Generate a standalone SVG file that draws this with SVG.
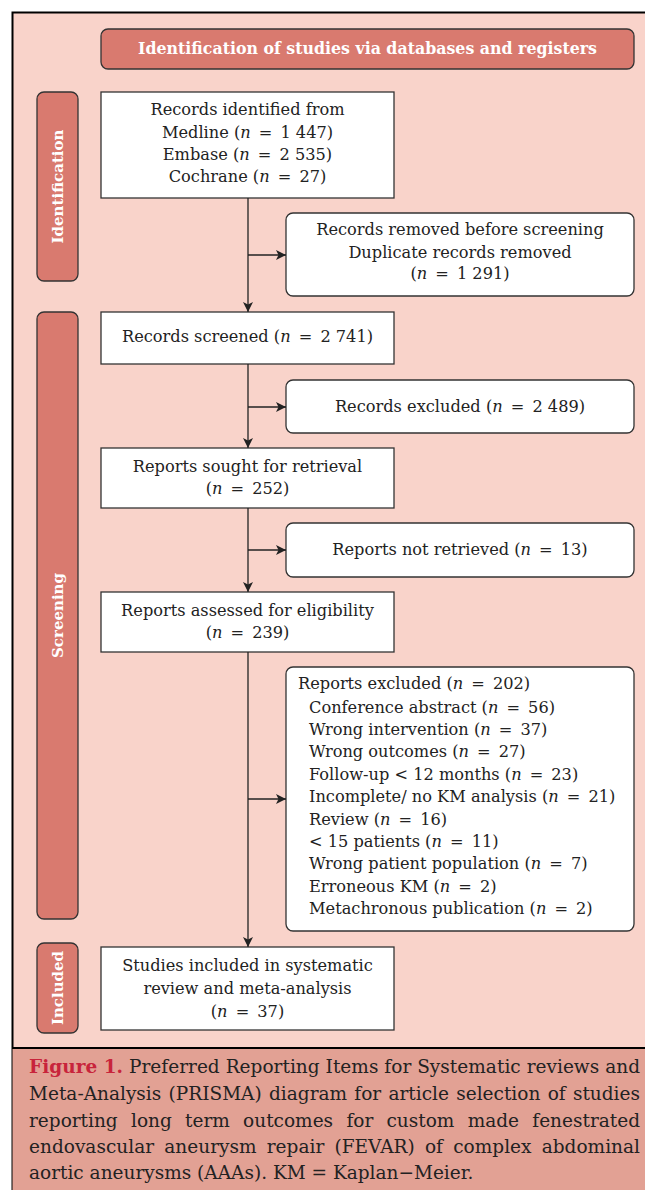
<svg xmlns="http://www.w3.org/2000/svg" width="645" height="1190" viewBox="0 0 645 1190">
<defs>
<marker id="ah" viewBox="0 0 10 10" refX="10" refY="5" markerWidth="10" markerHeight="10" markerUnits="userSpaceOnUse" orient="auto">
<path d="M0,0 L10,5 L0,10 L2.5,5 Z" fill="#222"/>
</marker>
<style>
.t{font-family:"DejaVu Serif","Liberation Serif",serif;font-size:16.2px;fill:#222;}
.c{text-anchor:middle;}
.i{font-style:italic;}
.box{fill:#fff;stroke:#333;stroke-width:1.3;}
.lab{fill:#d97a6f;stroke:#333;stroke-width:1.3;}
.lt{font-family:"DejaVu Serif","Liberation Serif",serif;font-weight:bold;fill:#fff;font-size:15px;text-anchor:middle;}
.con{stroke:#222;stroke-width:1.3;fill:none;}
.cap{font-family:"DejaVu Serif","Liberation Serif",serif;font-size:18.5px;fill:#222;}
</style>
</defs>
<rect x="12.5" y="12.5" width="700" height="1200" fill="#f9d3ca" stroke="#000" stroke-width="2"/>
<rect x="12.5" y="1048" width="700" height="160" fill="#e2a194"/>
<line x1="12" y1="1048" x2="645" y2="1048" stroke="#000" stroke-width="2"/>

<g id="header">
<rect class="lab" x="101" y="29" width="533" height="40" rx="7"/>
<text class="lt" x="367.5" y="54" style="font-size:15.8px">Identification of studies via databases and registers</text>
</g>
<g id="label-identification">
<rect class="lab" x="37" y="92" width="41" height="189" rx="7"/>
<text class="lt" transform="translate(63,186.5) rotate(-90)">Identification</text>
</g>
<g id="label-screening">
<rect class="lab" x="37" y="312" width="41" height="607" rx="7"/>
<text class="lt" transform="translate(63,615.5) rotate(-90)">Screening</text>
</g>
<g id="label-included">
<rect class="lab" x="37" y="943" width="41" height="90" rx="7"/>
<text class="lt" transform="translate(63,988) rotate(-90)">Included</text>
</g>

<g id="records-identified">
<rect class="box" x="101" y="92" width="293" height="106"/>
<text class="t c" x="247.5" y="115">Records identified from</text>
<text class="t c" x="247.5" y="138">Medline (<tspan class="i">n</tspan>&#8194;=&#8194;1 447)</text>
<text class="t c" x="247.5" y="160">Embase (<tspan class="i">n</tspan>&#8194;=&#8194;2 535)</text>
<text class="t c" x="247.5" y="182">Cochrane (<tspan class="i">n</tspan>&#8194;=&#8194;27)</text>
</g>
<g id="records-removed">
<rect class="box" x="286" y="213" width="348" height="83" rx="7"/>
<text class="t c" x="460" y="235">Records removed before screening</text>
<text class="t c" x="460" y="258">Duplicate records removed</text>
<text class="t c" x="460" y="279">(<tspan class="i">n</tspan>&#8194;=&#8194;1 291)</text>
</g>
<g id="records-screened">
<rect class="box" x="101" y="312" width="293" height="52"/>
<text class="t c" x="247.5" y="342">Records screened (<tspan class="i">n</tspan>&#8194;=&#8194;2 741)</text>
</g>
<g id="records-excluded">
<rect class="box" x="286" y="380" width="348" height="53" rx="7"/>
<text class="t c" x="460" y="412">Records excluded (<tspan class="i">n</tspan>&#8194;=&#8194;2 489)</text>
</g>
<g id="reports-sought">
<rect class="box" x="101" y="448" width="293" height="60"/>
<text class="t c" x="247.5" y="472">Reports sought for retrieval</text>
<text class="t c" x="247.5" y="494">(<tspan class="i">n</tspan>&#8194;=&#8194;252)</text>
</g>
<g id="reports-not-retrieved">
<rect class="box" x="286" y="523" width="348" height="54" rx="7"/>
<text class="t c" x="460" y="555">Reports not retrieved (<tspan class="i">n</tspan>&#8194;=&#8194;13)</text>
</g>
<g id="reports-assessed">
<rect class="box" x="101" y="592" width="293" height="60"/>
<text class="t c" x="247.5" y="616">Reports assessed for eligibility</text>
<text class="t c" x="247.5" y="638">(<tspan class="i">n</tspan>&#8194;=&#8194;239)</text>
</g>
<g id="reports-excluded">
<rect class="box" x="286" y="667" width="348" height="264" rx="7"/>
<text class="t" x="298" y="689">Reports excluded (<tspan class="i">n</tspan>&#8194;=&#8194;202)</text>
<text class="t" x="309" y="713">Conference abstract (<tspan class="i">n</tspan>&#8194;=&#8194;56)</text>
<text class="t" x="309" y="735">Wrong intervention (<tspan class="i">n</tspan>&#8194;=&#8194;37)</text>
<text class="t" x="309" y="757">Wrong outcomes (<tspan class="i">n</tspan>&#8194;=&#8194;27)</text>
<text class="t" x="309" y="780">Follow-up &lt; 12 months (<tspan class="i">n</tspan>&#8194;=&#8194;23)</text>
<text class="t" x="309" y="802">Incomplete/ no KM analysis (<tspan class="i">n</tspan>&#8194;=&#8194;21)</text>
<text class="t" x="309" y="825">Review (<tspan class="i">n</tspan>&#8194;=&#8194;16)</text>
<text class="t" x="309" y="847">&lt; 15 patients (<tspan class="i">n</tspan>&#8194;=&#8194;11)</text>
<text class="t" x="309" y="869">Wrong patient population (<tspan class="i">n</tspan>&#8194;=&#8194;7)</text>
<text class="t" x="309" y="892">Erroneous KM (<tspan class="i">n</tspan>&#8194;=&#8194;2)</text>
<text class="t" x="309" y="914">Metachronous publication (<tspan class="i">n</tspan>&#8194;=&#8194;2)</text>
</g>
<g id="studies-included">
<rect class="box" x="101" y="947" width="293" height="83"/>
<text class="t c" x="247.5" y="971">Studies included in systematic</text>
<text class="t c" x="247.5" y="994">review and meta-analysis</text>
<text class="t c" x="247.5" y="1017">(<tspan class="i">n</tspan>&#8194;=&#8194;37)</text>
</g>

<g id="connectors">
<line class="con" x1="248" y1="198" x2="248" y2="312" marker-end="url(#ah)"/>
<line class="con" x1="248" y1="255" x2="286" y2="255" marker-end="url(#ah)"/>
<line class="con" x1="248" y1="364" x2="248" y2="448" marker-end="url(#ah)"/>
<line class="con" x1="248" y1="407" x2="286" y2="407" marker-end="url(#ah)"/>
<line class="con" x1="248" y1="508" x2="248" y2="592" marker-end="url(#ah)"/>
<line class="con" x1="248" y1="550" x2="286" y2="550" marker-end="url(#ah)"/>
<line class="con" x1="248" y1="652" x2="248" y2="947" marker-end="url(#ah)"/>
<line class="con" x1="248" y1="799" x2="286" y2="799" marker-end="url(#ah)"/>
</g>

<g id="caption">
<text class="cap" x="29" y="1073" textLength="611" lengthAdjust="spacing"><tspan fill="#c8243b" font-weight="bold">Figure 1.</tspan> Preferred Reporting Items for Systematic reviews and</text>
<text class="cap" x="29" y="1100" textLength="611" lengthAdjust="spacing" word-spacing="1.4">Meta-Analysis (PRISMA) diagram for article selection of studies</text>
<text class="cap" x="29" y="1127" textLength="611" lengthAdjust="spacing" word-spacing="7.4">reporting long term outcomes for custom made fenestrated</text>
<text class="cap" x="29" y="1153" textLength="611" lengthAdjust="spacing" word-spacing="4.3">endovascular aneurysm repair (FEVAR) of complex abdominal</text>
<text class="cap" x="29" y="1179">aortic aneurysms (AAAs). KM = Kaplan−Meier.</text>
</g>
</svg>
